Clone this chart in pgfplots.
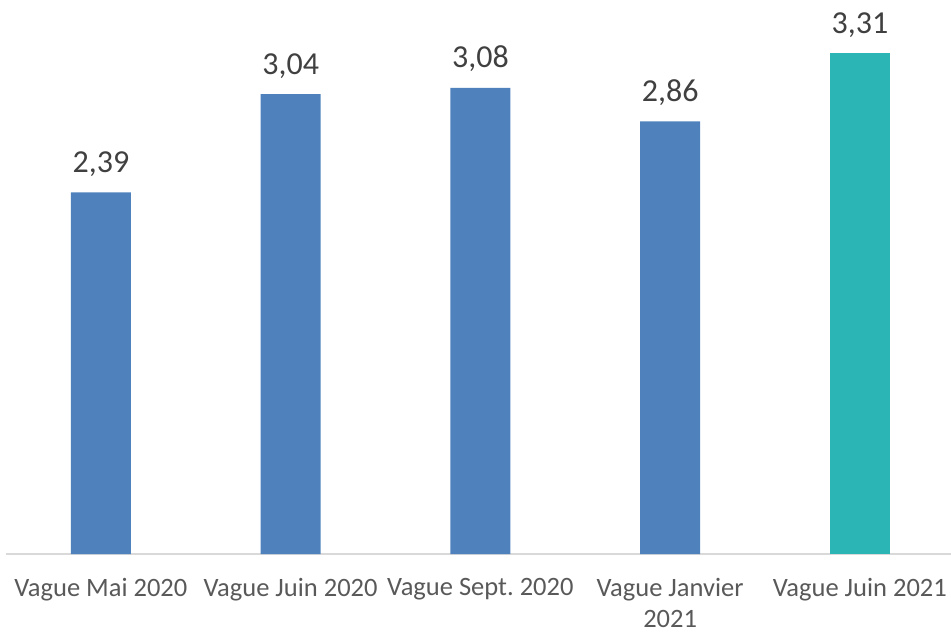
\documentclass[border=0pt]{standalone}
\usepackage{pgfplots}
\pgfplotsset{compat=1.18}
\usepackage{fontspec}
\setmainfont{Carlito}

\definecolor{barblue}{HTML}{4F81BD}
\definecolor{barteal}{HTML}{2BB5B5}
\definecolor{labelgray}{HTML}{595959}
\definecolor{numgray}{HTML}{404040}
\definecolor{axisgray}{HTML}{D9D9D9}

\begin{document}
\frenchspacing
\begin{tikzpicture}
\begin{axis}[
  scale only axis,
  width=948.75pt, height=554pt,
  xmin=-0.5, xmax=4.5,
  ymin=0, ymax=3.6616,
  ybar, bar shift=0pt, bar width=60pt,
  axis x line*=bottom,
  axis y line=none,
  x axis line style={draw=axisgray, line width=1.5pt},
  xtick={0,1,2,3,4},
  xticklabels={Vague Mai 2020, Vague Juin 2020, Vague Sept. 2020, {Vague Janvier\\2021}, Vague Juin 2021},
  major tick length=0pt,
  xticklabel style={font=\fontsize{26.5}{30.5}\selectfont, text=labelgray, align=center, inner sep=0pt, anchor=north, yshift=-24.5pt},
  nodes near coords,
  point meta=y,
  nodes near coords style={font=\fontsize{32}{38}\selectfont, text=numgray, inner sep=0pt, anchor=base, yshift=20pt,
    /pgf/number format/.cd, fixed, fixed zerofill, precision=2, use comma, assume math mode=true},
  clip=false,
]
\addplot[fill=barblue, draw=none] coordinates {(0,2.39) (1,3.04) (2,3.08) (3,2.86)};
\addplot[fill=barteal, draw=none] coordinates {(4,3.31)};
\end{axis}
\pgfresetboundingbox
\path[use as bounding box] (-6pt,-78pt) rectangle (945pt,554pt);
\end{tikzpicture}
\end{document}
